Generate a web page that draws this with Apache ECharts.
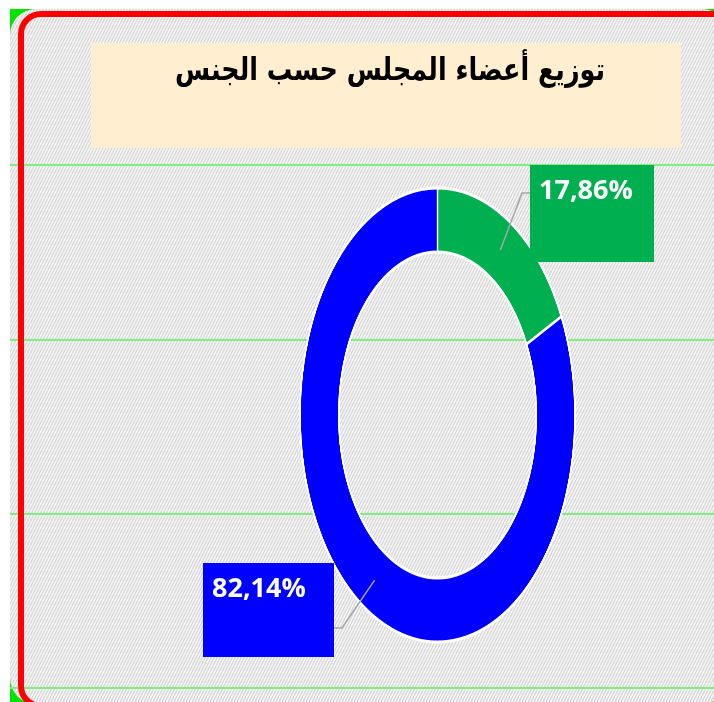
<!DOCTYPE html>
<html><head><meta charset="utf-8">
<script src="https://cdn.jsdelivr.net/npm/echarts@6/dist/echarts.min.js"></script>
<style>
html,body{margin:0;padding:0;background:#fff;overflow:hidden;}
#wrap{position:relative;width:714px;height:702px;overflow:hidden;}
.layer{position:absolute;left:0;top:0;width:714px;height:702px;}
#ring{transform-origin:437.5px 0;transform:scaleX(0.6057);}
</style></head><body>
<div id="wrap"><div id="bg" class="layer"></div><div id="ring" class="layer"></div><div id="lab" class="layer"></div></div>
<script>
// ---- data ----
const titleText = 'توزيع أعضاء المجلس حسب الجنس';
const categories = ['إناث', 'ذكور'];
const values = [17.86, 82.14];
const gridLevels = [0, 1, 2, 3];

// ---- styles / layout ----
const sliceColors = ['#00B050', '#0000FF'];
const CX = 437.5, CY = 415, R_OUT = 227, R_IN = 163, SX = 0.6057;
const labelBoxes = [
  {x: 530, y: 165, w: 124, h: 97, bendY: 193},
  {x: 203, y: 563, w: 131, h: 94, bendY: 628}
];

function makePattern() {
  const c = document.createElement('canvas');
  c.width = 6; c.height = 6;
  const g = c.getContext('2d');
  g.fillStyle = '#ffffff'; g.fillRect(0, 0, 6, 6);
  g.strokeStyle = '#d9d9d9'; g.lineWidth = 1.7;
  g.beginPath();
  g.moveTo(-3, 6); g.lineTo(0, 0);
  g.moveTo(0, 6); g.lineTo(3, 0);
  g.moveTo(3, 6); g.lineTo(6, 0);
  g.moveTo(6, 6); g.lineTo(9, 0);
  g.stroke();
  return c;
}

const pieData = categories.map((n, i) => ({name: n, value: values[i]}));

// ---- background layer ----
const bg = echarts.init(document.getElementById('bg'), null, {renderer: 'canvas'});
bg.setOption({
  animation: false,
  grid: {left: 10, right: 0, top: 165, bottom: 14},
  xAxis: {type: 'value', show: false, min: 0, max: 1},
  yAxis: {
    type: 'value', min: gridLevels[0], max: gridLevels[gridLevels.length - 1], interval: 1, z: 5,
    axisLine: {show: false}, axisTick: {show: false}, axisLabel: {show: false},
    splitLine: {show: true, lineStyle: {color: '#80EE80', width: 2}}
  },
  series: [],
  graphic: [
    {type: 'rect', z: 0, shape: {x: 10, y: 9, width: 704, height: 693}, style: {fill: '#00E400'}},
    {type: 'rect', z: 0, shape: {x: 10, y: 9, width: 718, height: 695, r: 26}, style: {fill: {image: makePattern(), repeat: 'repeat'}}},
    {type: 'rect', z: 0, shape: {x: 91, y: 43, width: 590, height: 105}, style: {fill: '#FFEFD0'}},
    {type: 'text', z: 1, x: 390, y: 72, scaleX: 0.82, style: {text: titleText, align: 'center', verticalAlign: 'middle', fill: '#000', font: 'bold 31px "DejaVu Sans", sans-serif'}},
    {type: 'rect', z: 10, shape: {x: 21, y: 14, width: 714, height: 692, r: 20}, style: {fill: 'none', stroke: '#FF0000', lineWidth: 6}}
  ]
});

// ---- ring layer (scaled horizontally into an ellipse) ----
const ring = echarts.init(document.getElementById('ring'), null, {renderer: 'canvas', devicePixelRatio: 2});
ring.setOption({
  animation: false,
  color: sliceColors,
  series: [{
    type: 'pie', center: [CX, CY], radius: [R_IN, R_OUT], startAngle: 90, clockwise: true,
    silent: true, label: {show: false}, labelLine: {show: false},
    itemStyle: {borderColor: '#ffffff', borderWidth: 3},
    data: pieData
  }]
});

// ---- labels layer ----
const total = values.reduce((a, b) => a + b, 0);
const lab = echarts.init(document.getElementById('lab'), null, {renderer: 'canvas'});
lab.setOption({
  animation: false,
  series: [{
    type: 'pie', center: [CX, CY], radius: [R_IN, R_OUT], startAngle: 90, clockwise: true,
    silent: true, avoidLabelOverlap: false,
    itemStyle: {color: 'rgba(0,0,0,0)'},
    label: {
      show: true, position: 'outside', color: '#ffffff',
      fontFamily: '"Open Sans", sans-serif', fontWeight: 'bold', fontSize: 27, lineHeight: 30,
      formatter: p => p.value.toFixed(2).replace('.', ',') + '%'
    },
    labelLine: {show: true, length: 10, length2: 10, lineStyle: {color: '#A6A6A6', width: 1.5}},
    labelLayout: function (p) {
      const i = p.dataIndex;
      let before = 0;
      for (let k = 0; k < i; k++) before += values[k];
      const mid = (before + values[i] / 2) / total * 2 * Math.PI;
      const rMid = (R_OUT + R_IN) / 2;
      const sx = CX + rMid * SX * Math.sin(mid);
      const sy = CY - rMid * Math.cos(mid);
      const b = labelBoxes[i];
      const rightSide = Math.sin(mid) > 0;
      const edgeX = rightSide ? b.x : b.x + b.w;
      const bendX = rightSide ? edgeX - 8 : edgeX + 8;
      return {
        x: b.x, y: b.y, align: 'left', verticalAlign: 'top',
        labelLinePoints: [[sx, sy], [bendX, b.bendY], [edgeX, b.bendY]]
      };
    },
    data: pieData.map((d, i) => ({
      name: d.name, value: d.value,
      label: {backgroundColor: sliceColors[i], width: labelBoxes[i].w - 9, height: labelBoxes[i].h - 11, padding: [11, 0, 0, 9], align: 'left', verticalAlign: 'top'}
    }))
  }]
});
</script>
</body></html>
